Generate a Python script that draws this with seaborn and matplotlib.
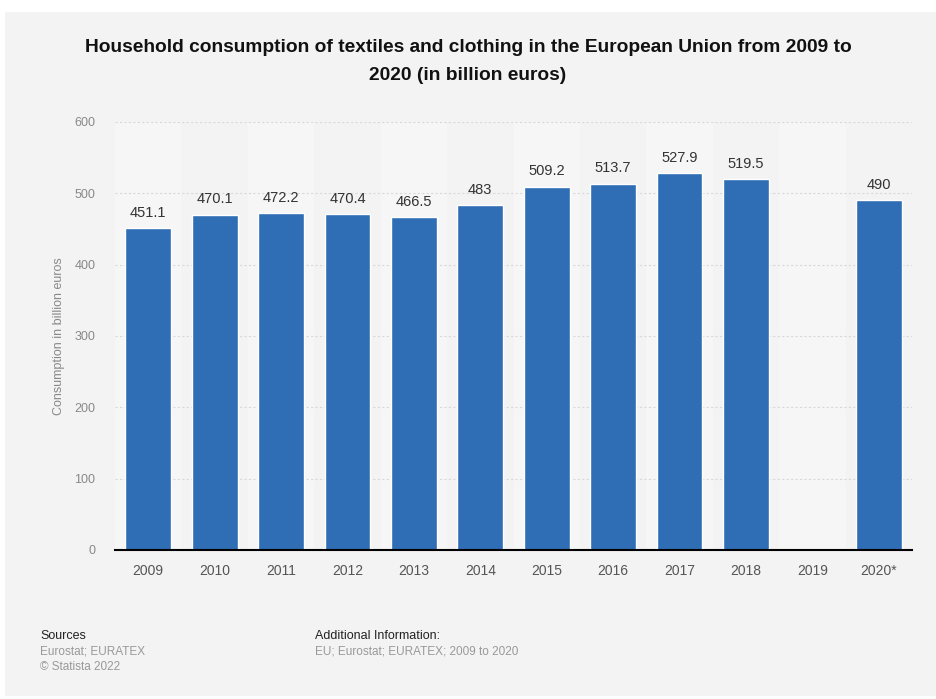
import numpy as np
import pandas as pd
import matplotlib.pyplot as plt
import seaborn as sns

years = ['2009', '2010', '2011', '2012', '2013', '2014', '2015', '2016', '2017', '2018', '2019', '2020*']
consumption = [451.1, 470.1, 472.2, 470.4, 466.5, 483, 509.2, 513.7, 527.9, 519.5, np.nan, 490]
value_labels = ['451.1', '470.1', '472.2', '470.4', '466.5', '483', '509.2', '513.7', '527.9', '519.5', '', '490']
y_ticks = [0, 100, 200, 300, 400, 500, 600]

data = pd.DataFrame({'year': years, 'value': consumption})

sns.set_style('white')
plt.rcParams['font.family'] = ['Liberation Sans', 'DejaVu Sans']

bg = '#f3f3f3'
fig = plt.figure(figsize=(9.36, 6.99), dpi=100, facecolor='white')
# grey card inside a thin white frame
fig.patches.append(plt.Rectangle((5 / 936, 0.005), 1 - 5 / 936, 1 - 12 / 699 - 0.005,
                                 transform=fig.transFigure, facecolor=bg, edgecolor='none', zorder=-10))

ax = fig.add_axes([115 / 936, 1 - 550 / 699, (912 - 115) / 936, (550 - 122) / 699])
ax.set_facecolor(bg)

# subtle alternating column bands
for i in range(len(years)):
    if i % 2 == 0:
        ax.axvspan(i - 0.5, i + 0.5, color='#f6f6f6', zorder=0, lw=0)

sns.barplot(data=data, x='year', y='value', color='#2f6db5', width=0.69,
            saturation=1, ax=ax, zorder=3)

for i, (v, lab) in enumerate(zip(consumption, value_labels)):
    if lab:
        ax.text(i, v + 12, lab, ha='center', va='bottom', fontsize=10.5, color='#333333', zorder=4)

ax.set_ylim(0, 600)
ax.set_xlim(-0.5, len(years) - 0.5)
ax.set_yticks(y_ticks)
ax.set_yticklabels([str(t) for t in y_ticks])
ax.yaxis.grid(True, color='#d8d8d8', linestyle=(0, (2, 2)), linewidth=0.8, zorder=1)
ax.set_axisbelow(True)
ax.tick_params(axis='y', length=0, pad=14, labelsize=9, labelcolor='#888888')
ax.tick_params(axis='x', length=0, pad=10, labelsize=10, labelcolor='#555555')
for s in ['top', 'right', 'left']:
    ax.spines[s].set_visible(False)
ax.spines['bottom'].set_color('black')
ax.spines['bottom'].set_linewidth(1.5)
ax.spines['bottom'].set_zorder(5)
ax.set_xlabel('')
ax.set_ylabel('Consumption in billion euros', fontsize=9, color='#888888')
ax.yaxis.set_label_coords(-0.063, 0.5)

fig.text(0.5, 1 - 47 / 699, 'Household consumption of textiles and clothing in the European Union from 2009 to',
         ha='center', va='center', fontsize=13.8, fontweight='bold', color='#111111')
fig.text(0.5, 1 - 75 / 699, '2020 (in billion euros)',
         ha='center', va='center', fontsize=13.8, fontweight='bold', color='#111111')

fig.text(40 / 936, 1 - 636 / 699, 'Sources', fontsize=9, color='#222222', va='center')
fig.text(40 / 936, 1 - 652 / 699, 'Eurostat; EURATEX', fontsize=8.5, color='#999999', va='center')
fig.text(40 / 936, 1 - 667 / 699, '\u00a9 Statista 2022', fontsize=8.5, color='#999999', va='center')
fig.text(315 / 936, 1 - 636 / 699, 'Additional Information:', fontsize=9, color='#222222', va='center')
fig.text(315 / 936, 1 - 652 / 699, 'EU; Eurostat; EURATEX; 2009 to 2020', fontsize=8.5, color='#999999', va='center')

fig.savefig('out.png', dpi=100, facecolor='white')
